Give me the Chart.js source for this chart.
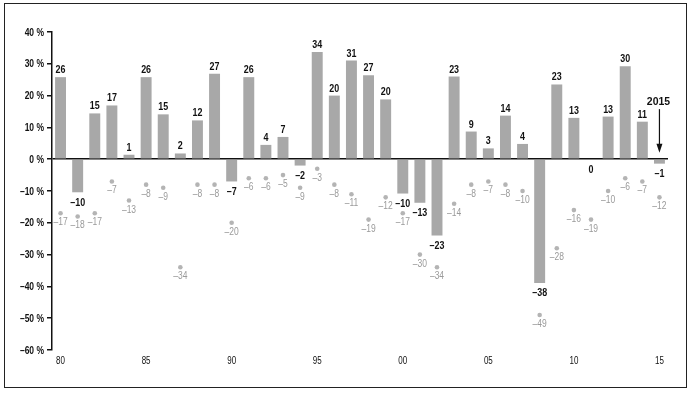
<!DOCTYPE html>
<html>
<head>
<meta charset="utf-8">
<script src="https://cdn.jsdelivr.net/npm/chart.js@4"></script>
<style>
  body { margin: 0; background: #fff; }
  #wrap { position: relative; width: 692px; height: 393px; }
  #frame { position: absolute; left: 4px; top: 3px; width: 681px; height: 383px; border: 1.5px solid #222; }
  canvas { position: absolute; left: 0; top: 0; }
</style>
</head>
<body>
<div id="wrap">
  <div id="frame"></div>
  <canvas id="chart" width="692" height="393"></canvas>
</div>
<script>
// years 1980 - 2015
const years = ['1980','1981','1982','1983','1984','1985','1986','1987','1988','1989',
  '1990','1991','1992','1993','1994','1995','1996','1997','1998','1999',
  '2000','2001','2002','2003','2004','2005','2006','2007','2008','2009',
  '2010','2011','2012','2013','2014','2015'];

// calendar year return (bar height, %)
const returns = [25.8, -10.4, 14.4, 16.9, 1.4, 25.8, 14.1, 1.8, 12.2, 26.9,
  -7.0, 25.8, 4.5, 7.0, -2.0, 33.7, 20.0, 31.0, 26.4, 18.8,
  -10.8, -13.7, -24.0, 26.0, 8.7, 3.4, 13.7, 4.8, -38.9, 23.5,
  13.0, 0, 13.4, 29.2, 11.8, -1.4];

// printed labels above / below the bars
const returnLabels = [26, -10, 15, 17, 1, 26, 15, 2, 12, 27,
  -7, 26, 4, 7, -2, 34, 20, 31, 27, 20,
  -10, -13, -23, 23, 9, 3, 14, 4, -38, 23,
  13, 0, 13, 30, 11, -1];

// intra-year decline (%)
const declines = [-17, -18, -17, -7, -13, -8, -9, -34, -8, -8,
  -20, -6, -6, -5, -9, -3, -8, -11, -19, -12,
  -17, -30, -34, -14, -8, -7, -8, -10, -49, -28,
  -16, -19, -10, -6, -7, -12];

const yTicks = [40, 30, 20, 10, 0, -10, -20, -30, -40, -50, -60];

const face = "'Liberation Sans', Arial, sans-serif";
const fmt = v => (v < 0 ? '\u2013' + Math.abs(v) : String(v));

// condensed look: squeeze text horizontally
function narrowText(ctx, text, x, y, sx) {
  ctx.save();
  ctx.translate(x, y);
  ctx.scale(sx, 1);
  ctx.fillText(text, 0, 0);
  ctx.restore();
}

const labelPlugin = {
  id: 'valueLabels',
  afterDraw(chart) {
    const ctx = chart.ctx;
    const xs = chart.scales.x, ys = chart.scales.y;
    const bars = chart.getDatasetMeta(0).data;
    const dots = chart.getDatasetMeta(1).data;
    ctx.save();
    ctx.textBaseline = 'alphabetic';

    // axis labels
    ctx.fillStyle = '#111';
    ctx.font = 'bold 10px ' + face;
    ctx.textAlign = 'right';
    yTicks.forEach(v => {
      narrowText(ctx, fmt(v) + ' %', ys.left + ys.width - 8, ys.getPixelForValue(v) + 3.5, 0.85);
    });
    ctx.textAlign = 'center';
    ctx.font = '10px ' + face;
    years.forEach((y, i) => {
      if (i % 5 === 0) narrowText(ctx, y.slice(2), xs.getPixelForValue(i), chart.chartArea.bottom + 13.5, 0.8);
    });

    // bar labels
    ctx.font = 'bold 10.5px ' + face;
    bars.forEach((bar, i) => {
      if (returns[i] > 0) {
        narrowText(ctx, fmt(returnLabels[i]), bar.x, bar.y - 4, 0.85);
      } else {
        narrowText(ctx, fmt(returnLabels[i]), bar.x, Math.max(bar.y, bar.base) + 13.5, 0.85);
      }
    });

    // decline labels
    ctx.font = '10px ' + face;
    ctx.fillStyle = '#9a9a9a';
    dots.forEach((pt, i) => {
      narrowText(ctx, fmt(declines[i]), pt.x, pt.y + 12, 0.85);
    });

    // 2015 marker
    const ax = xs.getPixelForValue(years.length - 1);
    const ty = ys.getPixelForValue(17);
    ctx.font = 'bold 11px ' + face;
    ctx.fillStyle = '#111';
    narrowText(ctx, '2015', ax - 1, ty, 0.95);
    const tip = ys.getPixelForValue(2);
    ctx.strokeStyle = '#111';
    ctx.lineWidth = 1.2;
    ctx.beginPath();
    ctx.moveTo(ax, ty + 4);
    ctx.lineTo(ax, tip - 6);
    ctx.stroke();
    ctx.beginPath();
    ctx.moveTo(ax - 3, tip - 9);
    ctx.lineTo(ax + 3, tip - 9);
    ctx.lineTo(ax, tip);
    ctx.closePath();
    ctx.fill();
    ctx.restore();
  }
};

new Chart(document.getElementById('chart').getContext('2d'), {
  type: 'bar',
  data: {
    labels: years,
    datasets: [
      {
        label: 'Calendar year return',
        data: returns,
        backgroundColor: '#a8a8a8',
        borderWidth: 0,
        barPercentage: 0.64,
        categoryPercentage: 1,
        order: 2
      },
      {
        type: 'line',
        label: 'Intra-year decline',
        data: declines,
        showLine: false,
        pointRadius: 2.3,
        pointBackgroundColor: '#b4b4b4',
        pointBorderWidth: 0,
        order: 1
      }
    ]
  },
  options: {
    responsive: false,
    animation: false,
    layout: { padding: { left: 0, top: 32, right: 24, bottom: 23 } },
    plugins: {
      legend: { display: false },
      tooltip: { enabled: false }
    },
    scales: {
      x: {
        grid: { display: false, drawTicks: false },
        border: { display: false },
        afterFit: s => { s.height = 20; },
        ticks: { display: false }
      },
      y: {
        min: -60,
        max: 40,
        afterFit: s => { s.width = 52; },
        afterBuildTicks: s => { s.ticks = yTicks.map(v => ({ value: v })); },
        border: { display: true, color: '#111', width: 1.5 },
        grid: {
          color: c => (c.tick && c.tick.value === 0 ? '#111' : 'rgba(0,0,0,0)'),
          lineWidth: 1.5,
          tickColor: '#111',
          tickLength: 5
        },
        ticks: { display: false }
      }
    }
  },
  plugins: [labelPlugin]
});
</script>
</body>
</html>
